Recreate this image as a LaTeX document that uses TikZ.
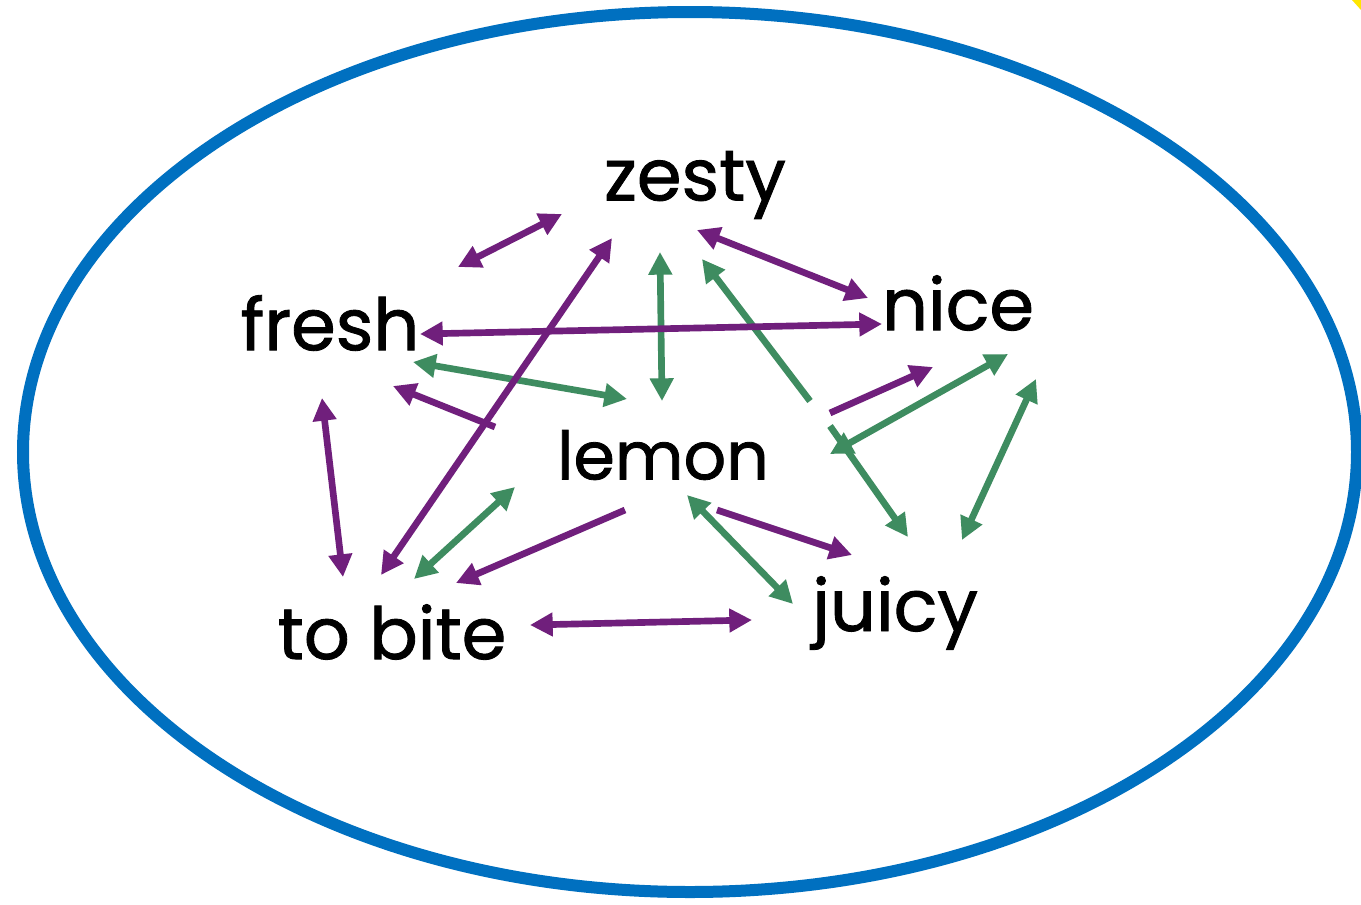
\documentclass[tikz,border=0pt]{standalone}
\usepackage{fontspec}
\setmainfont[FakeBold=1.2]{Poppins}
\usetikzlibrary{arrows.meta}
\definecolor{arrpurple}{RGB}{112,31,124}
\definecolor{arrgreen}{RGB}{62,140,96}
\definecolor{ringblue}{RGB}{0,112,192}
\definecolor{cornyellow}{RGB}{255,230,0}
\tikzset{
  word/.style={font=\fontsize{54}{60}\selectfont, text=black, inner sep=0pt, anchor=center},
  lnk/.style={line width=5pt, -{Triangle[length=17pt,width=17pt]}},
  dbl/.style={line width=5pt, {Triangle[length=17pt,width=17pt]}-{Triangle[length=17pt,width=17pt]}},
  pur/.style={draw=arrpurple, color=arrpurple},
  grn/.style={draw=arrgreen, color=arrgreen},
}
\begin{document}
\begin{tikzpicture}[x=0.75pt,y=-0.75pt]
\useasboundingbox (0,0) rectangle (1361,904);
\fill[white] (0,0) rectangle (1361,904);
\fill[cornyellow] (1352,0) -- (1361,0) -- (1361,10) -- cycle;
\draw[ringblue, line width=9pt] (690,452) ellipse [x radius=667, y radius=440];

\node[word] (zesty) at (695,185) {zesty};
\node[word] (nice) at (958,303) {nice};
\node[word] (fresh) at (330,323) {fresh};
\node[word, font=\fontsize{50}{60}\selectfont] (lemon) at (663,455) {lemon};
\node[word] (tobite) at (392,632) {to bite};
\node[word] (juicy) at (895,613) {juicy};

% purple arrows
\coordinate (p1a) at (458,267); \coordinate (p1b) at (562,214);
\coordinate (p2a) at (381,575); \coordinate (p2b) at (612,238);
\coordinate (p3a) at (697,230); \coordinate (p3b) at (868,298);
\coordinate (p4a) at (420,334); \coordinate (p4b) at (882,324);
\coordinate (p5a) at (495,427); \coordinate (p5b) at (393,386);
\coordinate (p6a) at (830,413); \coordinate (p6b) at (933,367);
\coordinate (p7a) at (322,398); \coordinate (p7b) at (343,577);
\coordinate (p8a) at (625,510); \coordinate (p8b) at (456,583);
\coordinate (p9a) at (717,510); \coordinate (p9b) at (852,555);
\coordinate (p10a) at (530,625); \coordinate (p10b) at (752,620);
% green arrows
\coordinate (g1a) at (660,252); \coordinate (g1b) at (662,401);
\coordinate (g2a) at (413,362); \coordinate (g2b) at (627,399);
\coordinate (g3a) at (810,401); \coordinate (g3b) at (702,259);
\coordinate (g4a) at (830,426); \coordinate (g4b) at (908,537);
\coordinate (g5a) at (830,454); \coordinate (g5b) at (1008,354);
\coordinate (g6a) at (962,540); \coordinate (g6b) at (1036,379);
\coordinate (g7a) at (414,579); \coordinate (g7b) at (515,487);
\coordinate (g8a) at (687,495); \coordinate (g8b) at (793,604);

\draw[grn,dbl] (g1a) -- (g1b);
\draw[grn,dbl] (g2a) -- (g2b);
\draw[grn,lnk] (g3a) -- (g3b);
\draw[grn,lnk] (g4a) -- (g4b);
\draw[grn,dbl] (g5a) -- (g5b);
\draw[grn,dbl] (g6a) -- (g6b);
\draw[grn,dbl] (g7a) -- (g7b);
\draw[grn,dbl] (g8a) -- (g8b);

\draw[pur,dbl] (p1a) -- (p1b);
\draw[pur,dbl] (p2a) -- (p2b);
\draw[pur,dbl] (p3a) -- (p3b);
\draw[pur,dbl] (p4a) -- (p4b);
\draw[pur,lnk] (p5a) -- (p5b);
\draw[pur,lnk] (p6a) -- (p6b);
\draw[pur,dbl] (p7a) -- (p7b);
\draw[pur,lnk] (p8a) -- (p8b);
\draw[pur,lnk] (p9a) -- (p9b);
\draw[pur,dbl] (p10a) -- (p10b);
\end{tikzpicture}
\end{document}
